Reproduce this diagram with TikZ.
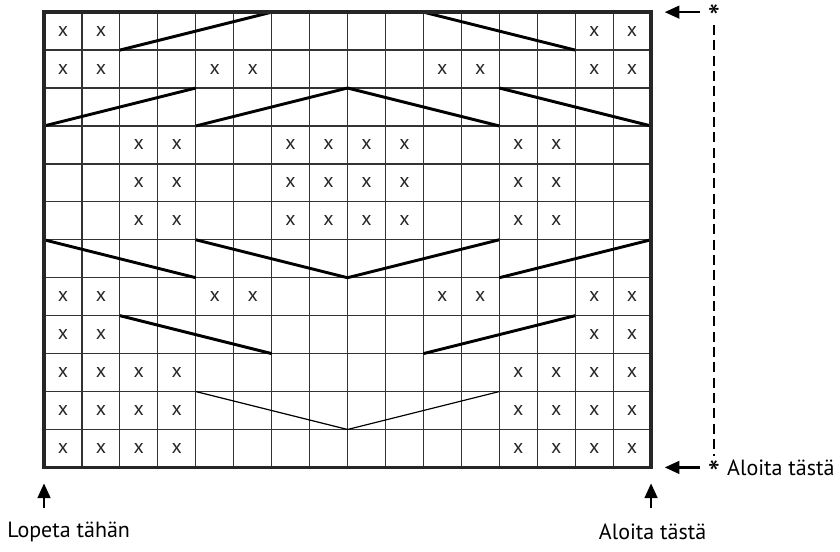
\documentclass[tikz,border=0pt]{standalone}
\usepackage{fontspec}
\setmainfont{PT Sans}
\usetikzlibrary{positioning, arrows.meta}

\begin{document}
\begin{tikzpicture}[
    gridline/.style={draw=black!80, line width=0.9pt},
    frame/.style={draw=black!85, line width=2.8pt},
    cable/.style={line width=2.2pt},
    thincable/.style={line width=0.9pt},
    stitch/.style={font=\fontsize{15}{15}\selectfont, text=black!85, inner sep=0pt},
    lbl/.style={font=\fontsize{16.5}{18}\selectfont, inner sep=0pt},
    starnode/.style={font=\fontsize{26}{26}\selectfont, inner sep=0pt},
    arr/.style={-{Triangle[length=11pt, width=9.5pt]}, line width=1.8pt},
    guide/.style={dash pattern=on 7.5pt off 4pt, line width=2pt}
  ]
  \useasboundingbox (-1.16,-2.22) rectangle (20.98,12.32);

  % chart grid, 16 stitches x 12 rows
  \draw[gridline] (0,0) grid (16,12);

  % purl stitches (row counted from top)
  \foreach \r in {1,2,8,9}
    \foreach \c in {1,2,15,16}
      \node[stitch] (s-\r-\c) at (\c-0.5,12.5-\r) {x};
  \foreach \r in {2,8}
    \foreach \c in {5,6,11,12}
      \node[stitch] (s-\r-\c) at (\c-0.5,12.5-\r) {x};
  \foreach \r in {4,5,6}
    \foreach \c in {3,4,7,8,9,10,13,14}
      \node[stitch] (s-\r-\c) at (\c-0.5,12.5-\r) {x};
  \foreach \r in {10,11,12}
    \foreach \c in {1,2,3,4,13,14,15,16}
      \node[stitch] (s-\r-\c) at (\c-0.5,12.5-\r) {x};

  % cables
  \draw[cable] (2,11) -- (6,12);
  \draw[cable] (10,12) -- (14,11);
  \draw[cable] (0,9) -- (4,10);
  \draw[cable] (4,9) -- (8,10) -- (12,9);
  \draw[cable] (12,10) -- (16,9);
  \draw[cable] (0,6) -- (4,5);
  \draw[cable] (4,6) -- (8,5) -- (12,6);
  \draw[cable] (12,5) -- (16,6);
  \draw[cable] (2,4) -- (6,3);
  \draw[cable] (10,3) -- (14,4);
  \draw[thincable] (4,2) -- (8,1) -- (12,2);

  \draw[frame] (0,0) rectangle (16,12);

  % repeat marks on the right
  \node[starnode, anchor=base] (startop) at (17.66,11.53) {*};
  \node[starnode, anchor=base] (starbot) at (17.66,-0.47) {*};
  \node[lbl, anchor=west] (beginright) at (18.0,0) {Aloita tästä};
  \coordinate (toptail) at (17.3,12);
  \coordinate (toptip)  at (16.36,12);
  \coordinate (bottail) at (17.3,0);
  \coordinate (bottip)  at (16.36,0);
  \draw[arr] (toptail) -- (toptip);
  \draw[arr] (bottail) -- (bottip);
  \draw[guide] (17.66,11.66) -- (17.66,0.29);

  % start and end arrows below
  \coordinate (lefttip)   at (0,-0.42);
  \coordinate (righttip)  at (16,-0.42);
  \node[lbl, anchor=west] (endlabel) at (-0.97,-1.69) {Lopeta tähän};
  \node[lbl] (startlabel) at (16.04,-1.69) {Aloita tästä};
  \draw[arr] (0,-1.08) -- (lefttip);
  \draw[arr] (16,-1.08) -- (righttip);
\end{tikzpicture}
\end{document}
